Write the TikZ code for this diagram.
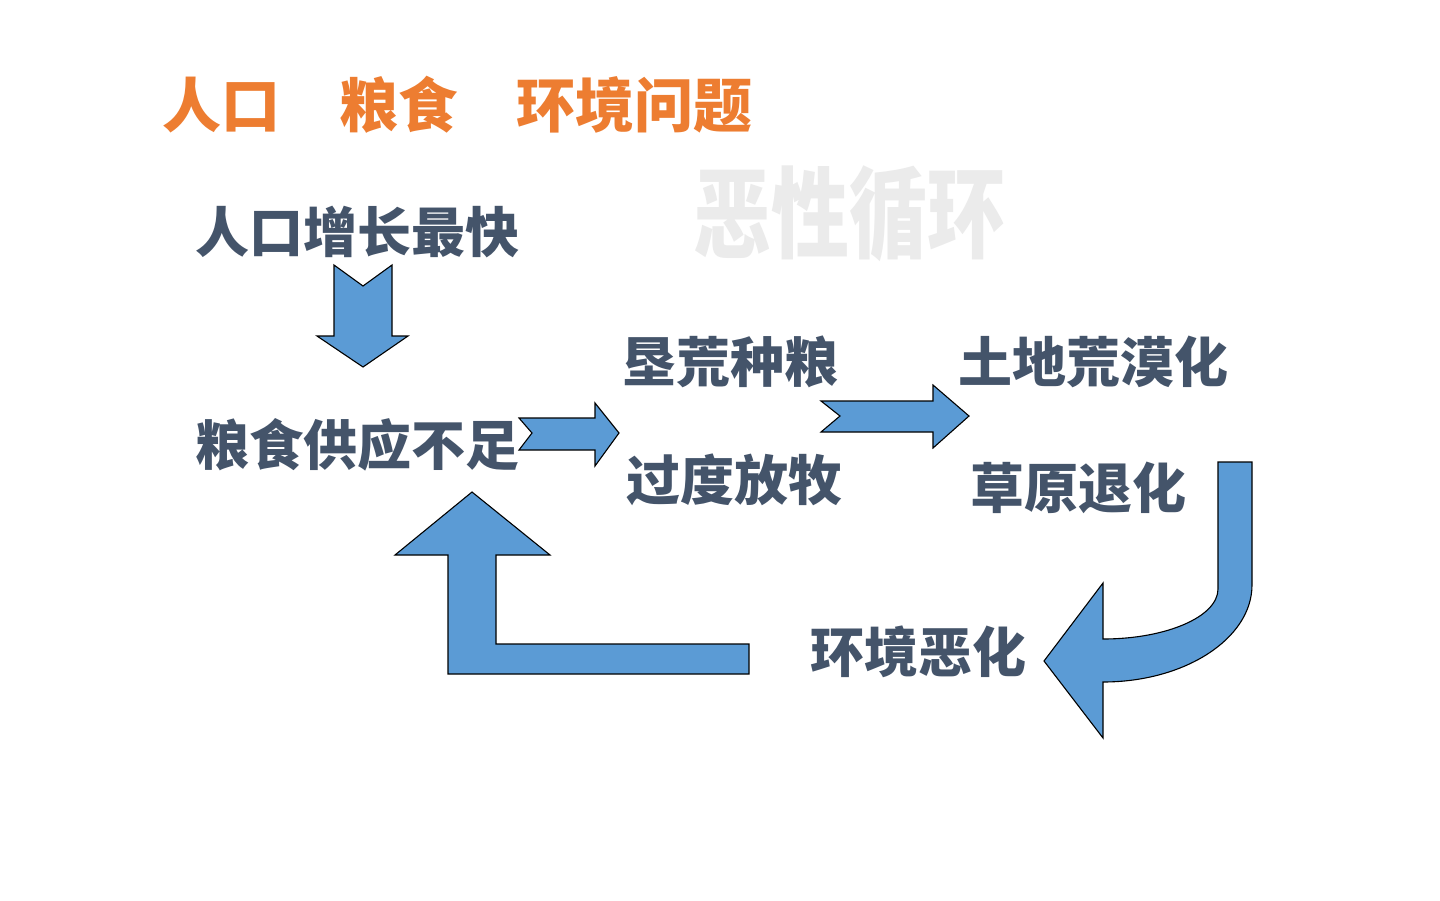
\documentclass[tikz,border=0pt]{standalone}
\usepackage{fontspec}
\newfontfamily\cjk{Noto Sans CJK SC}
\definecolor{ttl}{HTML}{ED7D31}
\definecolor{txt}{HTML}{44546A}
\definecolor{blk}{HTML}{5B9BD5}
\definecolor{wm}{HTML}{EBEBEB}
\tikzset{
  lbl/.style={anchor=west,inner sep=0pt,text=txt,font=\cjk\bfseries\fontsize{54}{60}\selectfont},
  blockarrow/.style={fill=blk,draw=black,line width=1.1pt,line join=miter}
}
\begin{document}
\begin{tikzpicture}[x=1pt,y=-1pt]
\useasboundingbox (0,0) rectangle (1440,900);
\fill[white] (0,0) rectangle (1440,900);
% title
\node[anchor=west,inner sep=0pt,text=ttl,font=\cjk\bfseries\fontsize{59}{64}\selectfont] (title) at (162,105) {人口　粮食　环境问题};
% watermark
\node[anchor=west,inner sep=0pt,text=wm,font=\cjk\bfseries\fontsize{78}{84}\selectfont] (wmark) at (693,214) {\scalebox{1}[1.27]{恶性循环}};
% labels
\node[lbl] (pop) at (195,232) {人口增长最快};
\node[lbl] (food) at (195,445) {粮食供应不足};
\node[lbl] (reclaim) at (622,362) {垦荒种粮};
\node[lbl] (graze) at (626,480) {过度放牧};
\node[lbl] (desert) at (958,362) {土地荒漠化};
\node[lbl] (grass) at (970,488) {草原退化};
\node[lbl] (env) at (810,652) {环境恶化};
% down arrow
\draw[blockarrow] (334,265) -- (363,286) -- (392,265) -- (392,336) -- (408,336) -- (363,367) -- (317,336) -- (334,336) -- cycle;
% right arrow 1
\draw[blockarrow] (519,418) -- (595,418) -- (595,403) -- (619,433) -- (595,466) -- (595,450) -- (519,450) -- (532,433) -- cycle;
% right arrow 2
\draw[blockarrow] (821,401) -- (933,401) -- (933,385) -- (969,416) -- (933,448) -- (933,432) -- (821,432) -- (840,416) -- cycle;
% curved arrow
\draw[blockarrow] (1218,462) -- (1252,462) -- (1252,585) .. controls (1252,638.5) and (1185,682) .. (1103,682) -- (1103,738) -- (1044,661) -- (1103,583) -- (1103,639) .. controls (1166.5,639) and (1218,616.6) .. (1218,589) -- cycle;
% L-shaped up arrow
\draw[blockarrow] (749,644) -- (496,644) -- (496,555) -- (550,555) -- (472,492) -- (395,555) -- (448,555) -- (448,674) -- (749,674) -- cycle;
\end{tikzpicture}
\end{document}
